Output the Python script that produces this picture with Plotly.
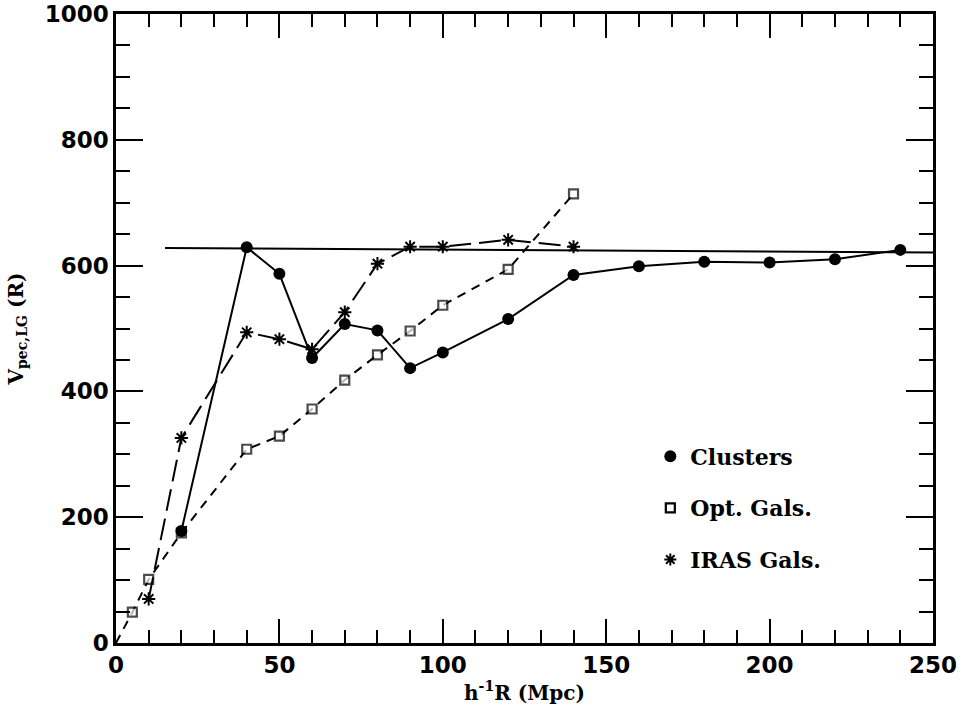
import plotly.graph_objects as go

# Peculiar velocity of the Local Group vs. depth of the sample
clusters_r = [20, 40, 50, 60, 70, 80, 90, 100, 120, 140, 160, 180, 200, 220, 240]
clusters_v = [178, 629, 587, 453, 507, 497, 437, 462, 515, 585, 599, 606, 605, 610, 625]

opt_r = [0, 5, 10, 20, 40, 50, 60, 70, 80, 90, 100, 120, 140]
opt_v = [0, 49, 101, 175, 308, 329, 372, 418, 458, 496, 537, 594, 714]

iras_r = [10, 20, 40, 50, 60, 70, 80, 90, 100, 120, 140]
iras_v = [70, 326, 494, 483, 467, 526, 603, 630, 630, 641, 630]

# reference level (CMB dipole velocity)
ref_r = [15, 250]
ref_v = [628, 621]

INK = "black"
TICK_FONT = dict(family="DejaVu Sans", size=23, color=INK, weight="bold")
TITLE_FONT = dict(family="DejaVu Serif", size=20, color=INK, weight="bold")
LEG_FONT = dict(family="DejaVu Serif", size=22, color=INK, weight="bold")

SQUARE = dict(symbol="square", color="white", line=dict(width=2.2, color=INK))

fig = go.Figure()

fig.add_trace(go.Scatter(x=ref_r, y=ref_v, mode="lines",
                         line=dict(color=INK, width=2), showlegend=False))

fig.add_trace(go.Scatter(x=opt_r, y=opt_v, mode="lines+markers",
                         line=dict(color=INK, width=2, dash="9px,7px"),
                         marker=dict(size=[0] + [9] * (len(opt_r) - 1), **SQUARE),
                         showlegend=False))

fig.add_trace(go.Scatter(x=iras_r, y=iras_v, mode="lines+markers",
                         line=dict(color=INK, width=2, dash="22px,8px"),
                         marker=dict(symbol="asterisk-open", size=11,
                                     color=INK, line=dict(width=2, color=INK)),
                         showlegend=False))

fig.add_trace(go.Scatter(x=clusters_r, y=clusters_v, mode="lines+markers",
                         line=dict(color=INK, width=2),
                         marker=dict(symbol="circle", size=12, color=INK),
                         showlegend=False))

# legend entries (markers only)
legend_markers = [
    ("Clusters", dict(symbol="circle", size=12, color=INK)),
    ("Opt. Gals.", dict(size=9, **SQUARE)),
    ("IRAS Gals.", dict(symbol="asterisk-open", size=10, color=INK,
                        line=dict(width=2, color=INK))),
]
for name, mk in legend_markers:
    fig.add_trace(go.Scatter(x=[None], y=[None], mode="markers", name=name,
                             legendgroup=name, marker=mk))

axis_common = dict(
    showgrid=False, zeroline=False, showline=True, linecolor=INK, linewidth=2.5,
    mirror="ticks", ticks="inside", tickcolor=INK, tickwidth=2,
    tickfont=TICK_FONT, automargin=False,
)

fig.update_xaxes(range=[0, 250], dtick=50, ticklen=24,
                 minor=dict(ticks="inside", dtick=10, ticklen=13, tickcolor=INK, tickwidth=2),
                 title=dict(text="h<sup>-1</sup>R (Mpc)", font=TITLE_FONT, standoff=0),
                 **axis_common)
fig.update_yaxes(range=[0, 1000], dtick=200, ticklen=27,
                 minor=dict(ticks="inside", dtick=50, ticklen=14, tickcolor=INK, tickwidth=2),
                 title=dict(text="V<sub>pec,LG</sub> (R)", font=TITLE_FONT, standoff=16),
                 **axis_common)

fig.update_layout(
    width=971, height=715,
    margin=dict(l=116, r=38, t=14, b=72),
    paper_bgcolor="white", plot_bgcolor="white",
    legend=dict(x=0.654, y=0.33, xanchor="left", yanchor="top",
                font=LEG_FONT, bgcolor="rgba(0,0,0,0)",
                tracegroupgap=20, itemwidth=30),
)

fig.write_html("out.html")
